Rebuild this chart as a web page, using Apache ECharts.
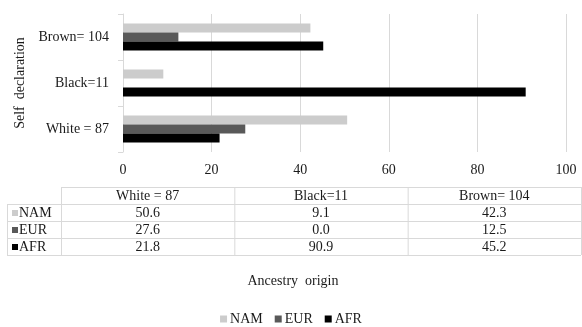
<!DOCTYPE html>
<html>
<head>
<meta charset="utf-8">
<script src="https://cdn.jsdelivr.net/npm/echarts@6/dist/echarts.min.js"></script>
<style>html,body{margin:0;padding:0;background:#fff}#c{width:582px;height:327px}</style>
</head>
<body>
<div id="c"></div>
<script>
var categories = ['White = 87', 'Black=11', 'Brown= 104'];
var seriesNames = ['NAM', 'EUR', 'AFR'];
var NAM = [50.6, 9.1, 42.3];
var EUR = [27.6, 0.0, 12.5];
var AFR = [21.8, 90.9, 45.2];
var xTicks = [0, 20, 40, 60, 80, 100];
var colors = ['#cccccc', '#595959', '#000000'];

var FONT = 'Liberation Serif';
var FS = 14;
var TXT = '#1a1a1a';
var valuesBySeries = [NAM, EUR, AFR];

var chart = echarts.init(document.getElementById('c'), null, {renderer: 'canvas'});

// table geometry
var tblTop = 187, rowH = 17, labelL = 7, labelR = 61, tblR = 581;
var colW = (tblR - labelR) / categories.length;
var lineStyle = {stroke: '#d9d9d9', lineWidth: 1};
var g = [];
function hline(x1, x2, y) { g.push({type: 'line', shape: {x1: x1, y1: y + 0.5, x2: x2, y2: y + 0.5}, style: lineStyle, silent: true}); }
function vline(x, y1, y2) { g.push({type: 'line', shape: {x1: x + 0.5, y1: y1, x2: x + 0.5, y2: y2}, style: lineStyle, silent: true}); }
var nRows = seriesNames.length;
var tblBottom = tblTop + rowH * (nRows + 1);
hline(labelR, tblR, tblTop);
for (var r = 1; r <= nRows + 1; r++) hline(labelL, tblR, tblTop + rowH * r);
vline(labelL, tblTop + rowH, tblBottom);
for (var c = 0; c <= categories.length; c++) vline(labelR + colW * c, tblTop, tblBottom);
function txt(x, y, s, align) {
  return {type: 'text', x: x, y: y, silent: true,
    style: {text: s, fontFamily: FONT, fontSize: FS, fill: TXT, align: align || 'center', verticalAlign: 'middle'}};
}
categories.forEach(function (cat, ci) {
  g.push(txt(labelR + colW * (ci + 0.5), tblTop + rowH / 2 + 1, cat));
});
seriesNames.forEach(function (name, ri) {
  var yc = tblTop + rowH * (ri + 1) + rowH / 2 + 1;
  g.push({type: 'rect', shape: {x: 12, y: yc - 3.5, width: 6, height: 6}, style: {fill: colors[ri]}, silent: true});
  g.push(txt(19, yc, name, 'left'));
  valuesBySeries[ri].forEach(function (v, ci) {
    g.push(txt(labelR + colW * (ci + 0.5), yc, v.toFixed(1)));
  });
});
g.push(txt(293, 281, 'Ancestry  origin'));

chart.setOption({
  animation: false,
  backgroundColor: '#fff',
  grid: {left: 123, right: 16, top: 14, height: 138},
  legend: {
    data: seriesNames, top: 312, left: 'center', padding: 0, icon: 'rect', itemWidth: 7, itemHeight: 7, itemGap: 12,
    textStyle: {fontFamily: FONT, fontSize: FS, color: TXT, padding: [0, 0, 0, -2]}
  },
  xAxis: {
    type: 'value', min: 0, max: 100, interval: 20,
    axisLine: {show: false}, axisTick: {show: false},
    splitLine: {show: true, lineStyle: {color: '#d9d9d9', width: 1}},
    axisLabel: {fontFamily: FONT, fontSize: FS, color: TXT, margin: 11,
      formatter: function (v) { return xTicks.indexOf(v) >= 0 ? String(v) : ''; }}
  },
  yAxis: {
    type: 'category', data: categories,
    name: 'Self  declaration', nameLocation: 'middle', nameGap: 95, nameRotate: 90,
    nameTextStyle: {fontFamily: FONT, fontSize: FS, color: TXT},
    axisLine: {show: true, lineStyle: {color: '#d9d9d9'}},
    axisTick: {show: true, length: 5, lineStyle: {color: '#d9d9d9'}},
    axisLabel: {fontFamily: FONT, fontSize: FS, color: TXT, margin: 14}
  },
  series: seriesNames.map(function (n, i) {
    return {name: n, type: 'bar', data: valuesBySeries[i], barWidth: 9, barGap: '0%',
      itemStyle: {color: colors[i]}};
  }),
  graphic: g
});
</script>
</body>
</html>
